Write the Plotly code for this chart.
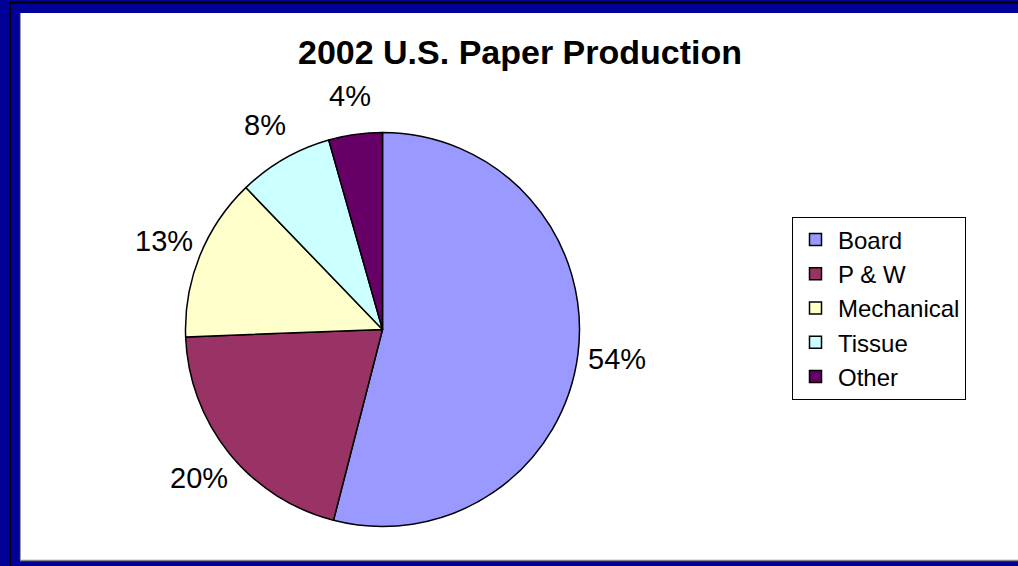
import math
import plotly.graph_objects as go

categories = ["Board", "P & W", "Mechanical", "Tissue", "Other"]
shares = [54.0, 20.4, 13.4, 7.8, 4.4]
slice_colors = ["#9999FF", "#993366", "#FFFFCC", "#CCFFFF", "#660066"]
title_text = "2002 U.S. Paper Production"

W, H = 1018, 566
FONT = "Arial, Liberation Sans, sans-serif"

def px_x(p):
    return p / W

def px_y(p):
    return 1 - p / H

cx, cy, r = 382.5, 329.5, 197
label_dist = r + 39

fig = go.Figure(go.Pie(
    labels=categories,
    values=shares,
    sort=False,
    direction="clockwise",
    rotation=0,
    marker=dict(colors=slice_colors, line=dict(color="black", width=1.5)),
    textinfo="none",
    domain=dict(x=[px_x(cx - r), px_x(cx + r)], y=[px_y(cy + r), px_y(cy - r)]),
    hoverinfo="label+percent",
))

# percentage labels placed outside each slice along its mid-angle
total = sum(shares)
annotations = []
cum = 0.0
for v in shares:
    mid = (cum + v / 2) / total * 2 * math.pi
    cum += v
    lx = cx + label_dist * math.sin(mid)
    ly = cy - label_dist * math.cos(mid)
    annotations.append(dict(
        text=f"{round(v / total * 100)}%", x=px_x(lx), y=px_y(ly),
        xref="paper", yref="paper", xanchor="center", yanchor="middle",
        showarrow=False, font=dict(family=FONT, size=29, color="black"),
    ))

shapes = [
    dict(type="rect", xref="paper", yref="paper", x0=px_x(20), x1=1.01, y0=px_y(560), y1=px_y(13),
         fillcolor="white", line=dict(width=0), layer="below"),
    dict(type="line", xref="paper", yref="paper", x0=px_x(9), x1=1.01, y0=px_y(2.5), y1=px_y(2.5),
         line=dict(color="black", width=2), layer="below"),
    dict(type="line", xref="paper", yref="paper", x0=px_x(10), x1=px_x(10), y0=-0.01, y1=px_y(2.5),
         line=dict(color="black", width=2), layer="below"),
    dict(type="line", xref="paper", yref="paper", x0=px_x(20), x1=px_x(20), y0=px_y(560), y1=px_y(13),
         line=dict(color="#333333", width=1), layer="below"),
    dict(type="line", xref="paper", yref="paper", x0=px_x(20), x1=1.01, y0=px_y(560.5), y1=px_y(560.5),
         line=dict(color="#888888", width=1.5), layer="below"),
]

fig.update_layout(
    width=W, height=H,
    margin=dict(l=0, r=0, t=0, b=0),
    paper_bgcolor="#000099",
    plot_bgcolor="white",
    shapes=shapes,
    annotations=annotations,
    title=dict(text="<b>" + title_text + "</b>", x=px_x(520), xanchor="center",
               y=px_y(52), yanchor="middle",
               font=dict(family=FONT, size=34, color="black")),
    showlegend=True,
    legend=dict(
        x=px_x(792), xanchor="left", y=px_y(308), yanchor="middle",
        bgcolor="white", bordercolor="black", borderwidth=1,
        font=dict(family=FONT, size=24, color="black"),
        itemwidth=35,
        entrywidth=182,
    ),
)

fig.write_html(
    "out.html",
    config={"displayModeBar": False},
    post_script="document.body.style.margin='0';document.body.style.overflow='hidden';",
)
